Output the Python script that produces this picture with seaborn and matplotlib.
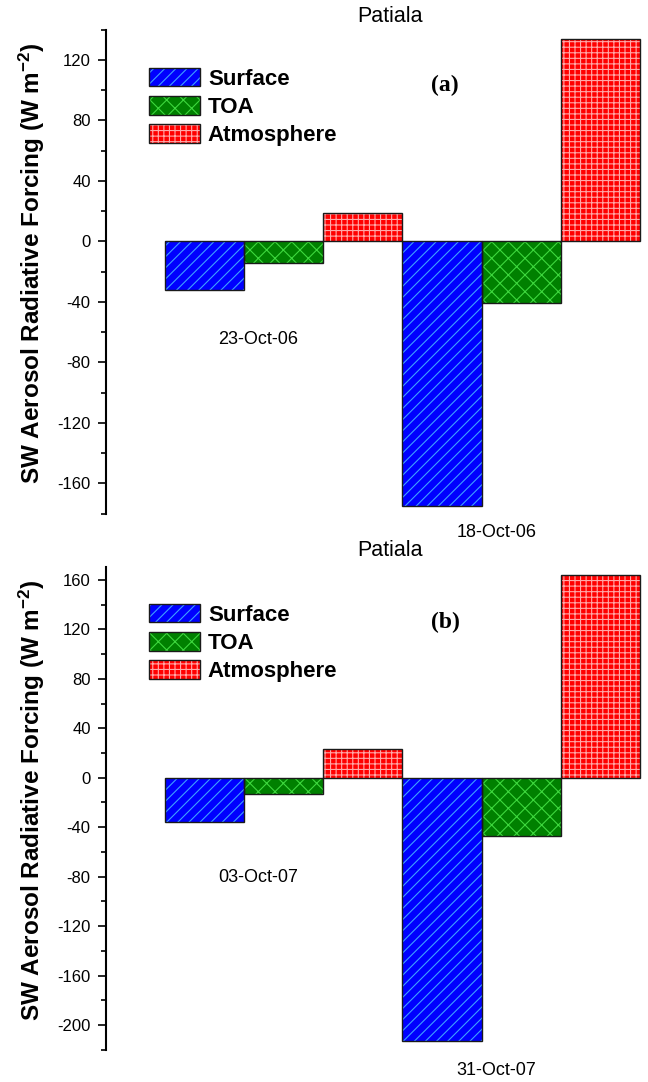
import pandas as pd
import numpy as np
import matplotlib
matplotlib.use("Agg")
import matplotlib.pyplot as plt
from matplotlib.patches import Patch, Rectangle
from matplotlib.ticker import MultipleLocator
import seaborn as sns

# --- datos ---
components = ['Surface', 'TOA', 'Atmosphere']

dates_a = ['23-Oct-06', '18-Oct-06']
surface_a = [-32, -175]
toa_a = [-14, -41]
atmos_a = [19, 134]

dates_b = ['03-Oct-07', '31-Oct-07']
surface_b = [-36, -213]
toa_b = [-13, -47]
atmos_b = [23, 164]

fill_colors = ['#0000FF', '#008000', '#FF0000']
hatch_colors = ['#3FA0FF', '#3ED83E', '#FFA8A8']
hatches = ['///', 'xx', '+++']

sns.set_style("ticks")
plt.rcParams['font.family'] = ['Liberation Sans', 'DejaVu Sans']
plt.rcParams['mathtext.fontset'] = 'custom'
plt.rcParams['mathtext.rm'] = 'Liberation Sans:bold'
plt.rcParams['mathtext.bf'] = 'Liberation Sans:bold'
plt.rcParams['mathtext.default'] = 'bf'
plt.rcParams['axes.unicode_minus'] = False
plt.rcParams['hatch.linewidth'] = 0.8
for k in ['text.color', 'axes.labelcolor', 'xtick.color', 'ytick.color', 'axes.edgecolor']:
    plt.rcParams[k] = 'black'

W, H = 648, 1082
fig = plt.figure(figsize=(W / 100, H / 100), dpi=100)


def make_df(dates, surf, toa, atm):
    rows = []
    for comp, vals in zip(components, [surf, toa, atm]):
        for d, v in zip(dates, vals):
            rows.append({'date': d, 'component': comp, 'value': v})
    return pd.DataFrame(rows)


def draw_panel(rect, df, dates, ylim, tag, date_y, title_y, tag_y, leg_y):
    ax = fig.add_axes(rect)
    sns.barplot(data=df, x='date', y='value', hue='component', order=dates,
                hue_order=components, palette=fill_colors, width=1.0,
                saturation=1, errorbar=None, legend=False, ax=ax)

    # sombreado de color + contorno negro
    for cont, fc, hc, ht in zip(ax.containers, fill_colors, hatch_colors, hatches):
        for p in cont:
            p.set_facecolor(fc)
            p.set_edgecolor(hc)
            p.set_hatch(ht)
            p.set_linewidth(0)
            ax.add_patch(Rectangle(p.get_xy(), p.get_width(), p.get_height(),
                                   fill=False, edgecolor='#1a1a1a', linewidth=1.0))

    ax.set_xlim(-0.747, 1.534)
    ax.set_ylim(*ylim)
    ax.set_xticks([])
    ax.set_xlabel('')
    ax.yaxis.set_major_locator(MultipleLocator(40))
    ax.yaxis.set_minor_locator(MultipleLocator(20))
    ax.tick_params(axis='y', which='major', length=6, width=1.2, labelsize=12, pad=5,
                   direction='out')
    ax.tick_params(axis='y', which='minor', length=3.5, width=1.2, direction='out')
    for s in ['top', 'right', 'bottom']:
        ax.spines[s].set_visible(False)
    ax.spines['left'].set_linewidth(1.5)

    ax.set_ylabel(r'SW Aerosol Radiative Forcing (W m$^{-2}$)', fontsize=17.5,
                  fontweight='bold')
    ax.yaxis.set_label_coords(-0.108, 0.518)

    # etiquetas de fecha
    for i, (d, yv) in enumerate(zip(dates, date_y)):
        ax.text(i - 0.105, yv, d, fontsize=13, ha='center', va='center', clip_on=False)

    fig.text(390 / W, 1 - title_y / H, 'Patiala', fontsize=15.5, ha='center', va='center')
    fig.text(445 / W, 1 - tag_y / H, tag, fontsize=17, fontweight='bold',
             family='Liberation Serif', ha='center', va='center')

    handles = [(Patch(facecolor=fc, edgecolor=hc, hatch=ht, linewidth=0),
                Patch(fill=False, edgecolor='#1a1a1a', linewidth=1.0))
               for fc, hc, ht in zip(fill_colors, hatch_colors, hatches)]
    ax.legend(handles, components, loc='upper left',
              bbox_to_anchor=(149 / W, 1 - leg_y / H), bbox_transform=fig.transFigure,
              frameon=False, borderpad=0, borderaxespad=0, handlelength=2.3,
              handleheight=0.9, handletextpad=0.35, labelspacing=0.28,
              prop={'weight': 'bold', 'size': 16})
    return ax


df_a = make_df(dates_a, surface_a, toa_a, atmos_a)
df_b = make_df(dates_b, surface_b, toa_b, atmos_b)

draw_panel([106 / W, 1 - 513.7 / H, 542 / W, 484 / H], df_a, dates_a, (-180, 140),
           '(a)', [-65, -192.6], 17, 85, 68)
draw_panel([106 / W, 1 - 1049.8 / H, 542 / W, 482.3 / H], df_b, dates_b, (-220, 170),
           '(b)', [-80.3, -237], 550, 622, 604)

fig.savefig('out.png', dpi=100)
